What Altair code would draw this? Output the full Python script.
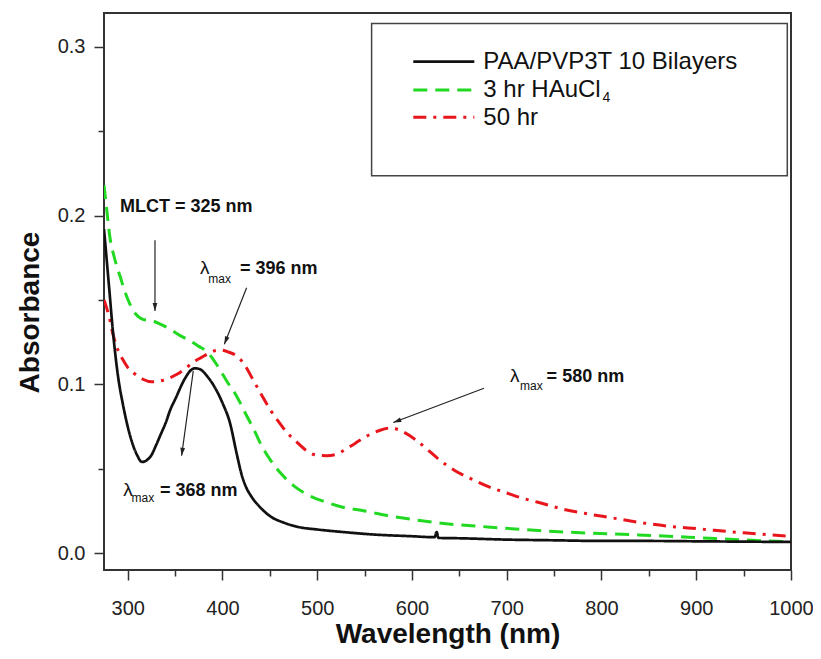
import math
import altair as alt
import pandas as pd

# ---------------- data ----------------
wl_black = [275, 280, 285, 290, 295, 300, 305, 310, 315, 320, 325, 330, 335, 340, 345, 350,
            360, 366, 371, 376, 385, 390, 400, 408, 415, 420, 425, 430, 440, 450, 465, 480,
            500, 527, 560, 600, 620, 624, 626, 628, 650, 700, 750, 800, 850, 900, 950, 1000]
abs_black = [0.192, 0.160, 0.128, 0.104, 0.088, 0.075, 0.065, 0.058, 0.054, 0.055, 0.058, 0.064,
             0.0705, 0.077, 0.085, 0.091, 0.103, 0.108, 0.1095, 0.109, 0.104, 0.100, 0.089, 0.077,
             0.059, 0.047, 0.039, 0.034, 0.027, 0.022, 0.018, 0.0155, 0.014, 0.0125, 0.011, 0.010,
             0.0095, 0.0095, 0.0125, 0.009, 0.0088, 0.008, 0.0076, 0.0072, 0.0072, 0.0070, 0.0068,
             0.0066]

wl_green = [275, 278, 281, 286, 292, 297, 302, 308, 316, 327, 335, 345, 355, 366, 375, 383, 390,
            397, 405, 415, 425, 433, 441, 450, 462, 475, 490, 510, 527, 550, 575, 600, 628, 680,
            733, 790, 839, 900, 950, 1000]
abs_green = [0.218, 0.203, 0.188, 0.175, 0.164, 0.155, 0.148, 0.142, 0.1385, 0.1375, 0.1355,
             0.1326, 0.129, 0.1257, 0.1225, 0.1197, 0.115, 0.109, 0.1015, 0.093, 0.082, 0.0735,
             0.064, 0.0557, 0.047, 0.040, 0.0345, 0.0301, 0.0272, 0.025, 0.0222, 0.020, 0.0179,
             0.0155, 0.0134, 0.0118, 0.0108, 0.0092, 0.0078, 0.0068]

wl_red = [275, 280, 285, 290, 295, 300, 308, 316, 325, 334, 343, 352, 360, 369, 378, 387, 393,
          399, 407, 415, 424, 432, 441, 450, 459, 468, 478, 489, 500, 510, 520, 530, 540, 550,
          565, 578, 590, 603, 615, 628, 645, 663, 680, 698, 715, 733, 760, 786, 810, 839, 870,
          902, 950, 1000]
abs_red = [0.150, 0.141, 0.1285, 0.120, 0.1145, 0.110, 0.106, 0.103, 0.1015, 0.102, 0.1035,
           0.106, 0.109, 0.113, 0.116, 0.1188, 0.1200, 0.1203, 0.119, 0.1168, 0.111, 0.103,
           0.094, 0.0853, 0.078, 0.0715, 0.066, 0.0606, 0.058, 0.0577, 0.0585, 0.0615, 0.065,
           0.0686, 0.0725, 0.0742, 0.072, 0.0675, 0.062, 0.0557, 0.049, 0.0439, 0.0395, 0.036,
           0.0328, 0.0301, 0.026, 0.0232, 0.021, 0.0183, 0.016, 0.0144, 0.012, 0.010]

series_names = ["PAA/PVP3T 10 Bilayers", "3 hr HAuCl", "50 hr"]
series_colors = ["#111111", "#22d922", "#e8161c"]
series_dashes = [[1, 0], [14, 8], [13, 7, 3, 7]]
series_widths = [2.7, 3, 3]

x_ticks = [300, 350, 400, 450, 500, 550, 600, 650, 700, 750, 800, 850, 900, 950, 1000]
y_ticks = [0.0, 0.05, 0.1, 0.15, 0.2, 0.25, 0.3]

# annotation texts (data coordinates)
ann_bold_text = ["MLCT = 325 nm", "= 396 nm", "= 368 nm", "= 580 nm"]
ann_bold_x = [291.9, 418.5, 334.1, 742.1]
ann_bold_y = [0.2019, 0.1651, 0.0340, 0.1014]
lam_x = [376.3, 295.4, 703.5]
lam_y = [0.1651, 0.0340, 0.1014]
sub_x = [385.1, 304.1, 714.0]
sub_y = [0.1602, 0.0301, 0.0967]

# arrows: start -> tip
arr_x1 = [328.8, 425.5, 369.2, 676.0]
arr_y1 = [0.1853, 0.1572, 0.1079, 0.0977]
arr_x2 = [328.8, 402.0, 356.9, 580.3]
arr_y2 = [0.1434, 0.1237, 0.0577, 0.0774]

# legend geometry (data coordinates)
leg_box = dict(w=557.4, w2=996.1, a=0.3138, a2=0.2236)
leg_line_x1, leg_line_x2 = 601.4, 665.8
leg_rows_y = [0.2912, 0.2744, 0.2582]
leg_text_x = 675.3
leg_text_y = [0.2868, 0.2700, 0.2537]

# ---------------- chart ----------------
W, H = 687, 557
XMIN, XMAX = 275, 1000
YMIN, YMAX = -0.01, 0.32
FONT = "Liberation Sans"

xs = alt.Scale(domain=[XMIN, XMAX], nice=False, zero=False)
ys = alt.Scale(domain=[YMIN, YMAX], nice=False, zero=False)

x_axis = alt.Axis(
    values=x_ticks, grid=False, domain=False,
    labelExpr="datum.value % 100 == 0 ? format(datum.value, 'd') : ''",
    tickSize={"condition": {"test": "datum.value % 100 == 0", "value": 10}, "value": 6},
    tickColor="#333", tickWidth=1.5, labelFont=FONT, labelFontSize=20, labelColor="#222",
    labelBaseline="alphabetic", labelPadding=34, labelOverlap=False, labelFlush=False,
    title="Wavelength (nm)", titleFont=FONT, titleFontSize=28, titleFontWeight="bold",
    titleColor="#111", titleBaseline="alphabetic", titleY=72,
)
y_major = "abs(datum.value*10 - round(datum.value*10)) < 0.000001"
y_axis = alt.Axis(
    values=y_ticks, grid=False, domain=False,
    labelExpr=f"{y_major} ? format(datum.value, '.1f') : ''",
    tickSize={"condition": {"test": y_major, "value": 10}, "value": 6},
    tickColor="#333", tickWidth=1.5, labelFont=FONT, labelFontSize=20, labelColor="#222",
    labelPadding=9, labelOverlap=False, labelFlush=False,
    title="Absorbance", titleFont=FONT, titleFontSize=28, titleFontWeight="bold",
    titleColor="#111", titleBaseline="alphabetic", titleAngle=270, titleX=-66, titleY=299,
)

X = alt.X("w:Q", scale=xs, axis=x_axis)
Y = alt.Y("a:Q", scale=ys, axis=y_axis)

curves = [(wl_green, abs_green, 1), (wl_red, abs_red, 2), (wl_black, abs_black, 0)]
layers = []
for wl, ab, i in curves:
    df = pd.DataFrame({"w": wl, "a": ab})
    layers.append(
        alt.Chart(df).mark_line(
            color=series_colors[i], strokeDash=series_dashes[i], strokeWidth=series_widths[i],
            interpolate="monotone", clip=True
        ).encode(x=X, y=Y)
    )

# legend box
box_df = pd.DataFrame([leg_box])
layers.append(
    alt.Chart(box_df).mark_rect(fill="white", stroke="#444", strokeWidth=1.5).encode(
        x=X, x2="w2:Q", y=Y, y2="a2:Q")
)
# legend samples
for i in range(3):
    ldf = pd.DataFrame({"w": [leg_line_x1, leg_line_x2], "a": [leg_rows_y[i]] * 2})
    layers.append(
        alt.Chart(ldf).mark_line(
            color=series_colors[i], strokeDash=series_dashes[i], strokeWidth=series_widths[i]
        ).encode(x=X, y=Y)
    )
ltext = pd.DataFrame({"w": [leg_text_x] * 3, "a": leg_text_y, "t": series_names})
layers.append(
    alt.Chart(ltext).mark_text(align="left", baseline="alphabetic", font=FONT, fontSize=24,
                               color="#111").encode(x=X, y=Y, text="t:N")
)
lsub = pd.DataFrame({"w": [801.0], "a": [0.2675], "t": ["4"]})
layers.append(
    alt.Chart(lsub).mark_text(align="left", baseline="alphabetic", font=FONT, fontSize=14,
                              color="#111").encode(x=X, y=Y, text="t:N")
)

# annotation texts
bdf = pd.DataFrame({"w": ann_bold_x, "a": ann_bold_y, "t": ann_bold_text})
layers.append(
    alt.Chart(bdf).mark_text(align="left", baseline="alphabetic", font=FONT, fontSize=18,
                             fontWeight="bold", color="#111").encode(x=X, y=Y, text="t:N")
)
ldf2 = pd.DataFrame({"w": lam_x, "a": lam_y, "t": ["λ"] * 3})
layers.append(
    alt.Chart(ldf2).mark_text(align="left", baseline="alphabetic", font=FONT, fontSize=19,
                              color="#111").encode(x=X, y=Y, text="t:N")
)
sdf = pd.DataFrame({"w": sub_x, "a": sub_y, "t": ["max"] * 3})
layers.append(
    alt.Chart(sdf).mark_text(align="left", baseline="alphabetic", font=FONT, fontSize=12,
                             color="#111").encode(x=X, y=Y, text="t:N")
)

# arrows
kx = W / (XMAX - XMIN)
ky = H / (YMAX - YMIN)
angles = []
for x1, y1, x2, y2 in zip(arr_x1, arr_y1, arr_x2, arr_y2):
    dx = (x2 - x1) * kx
    dy = -(y2 - y1) * ky
    angles.append(math.degrees(math.atan2(dx, -dy)) % 360)
adf = pd.DataFrame({"w": arr_x1, "a": arr_y1, "w2": arr_x2, "a2": arr_y2, "ang": angles})
layers.append(
    alt.Chart(adf).mark_rule(color="#222", strokeWidth=1.2).encode(
        x=X, y=Y, x2="w2:Q", y2="a2:Q")
)
tips = pd.DataFrame({"w": arr_x2, "a": arr_y2, "ang": angles})
layers.append(
    alt.Chart(tips).mark_point(shape="M0,0L-0.6,2L0.6,2Z", filled=True, size=64,
                               color="#222", opacity=1).encode(
        x=X, y=Y, angle=alt.Angle("ang:Q", scale=None))
)

chart = alt.layer(*layers).properties(
    width=W, height=H,
    autosize=alt.AutoSizeParams(type="none"),
    padding={"left": 96, "top": 5, "right": 22, "bottom": 81},
    background="white",
).configure_view(stroke="#333", strokeWidth=2)

chart.save("out.html", embed_options={"renderer": "svg", "actions": False})
